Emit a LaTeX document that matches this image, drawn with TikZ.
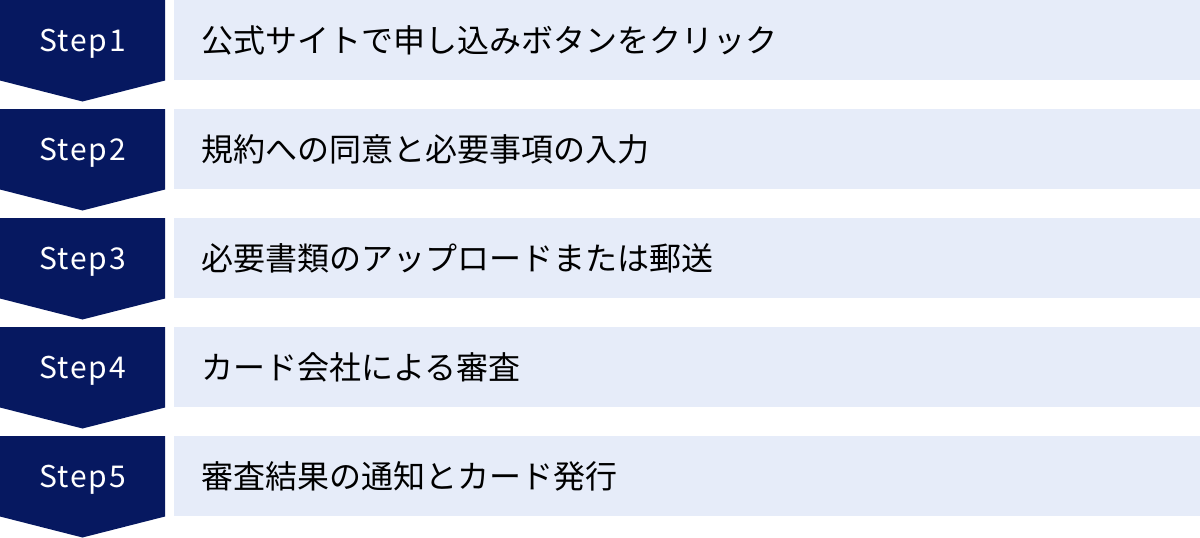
\documentclass[tikz,border=0pt]{standalone}
\usepackage{fontspec}
\setmainfont{Noto Sans}
\newfontfamily\jpfont{Noto Sans CJK JP}
\newfontfamily\stepfont[LetterSpace=6]{Noto Sans CJK JP}
\definecolor{navy}{RGB}{6,24,96}
\definecolor{pale}{RGB}{230,236,249}
\tikzset{
  chevron/.style={fill=navy},
  bar/.style={fill=pale},
  steplabel/.style={text=white, inner sep=0pt, anchor=base, font=\stepfont\fontsize{30}{36}\selectfont},
  barlabel/.style={text=black, anchor=west, inner sep=0pt, font=\jpfont\fontsize{32}{38}\selectfont}
}
\begin{document}
\begin{tikzpicture}[x=1pt,y=-1pt]
\useasboundingbox (0,0) rectangle (1200,538);
\foreach \i/\t in {1/公式サイトで申し込みボタンをクリック,
                   2/規約への同意と必要事項の入力,
                   3/必要書類のアップロードまたは郵送,
                   4/カード会社による審査,
                   5/審査結果の通知とカード発行} {
  \pgfmathsetmacro\top{109*(\i-1)}
  \fill[chevron] (0,\top) -- (165,\top) -- (165,\top+80.5) -- (82.5,\top+101.5) -- (0,\top+80.5) -- cycle;
  \node[steplabel] (s\i) at (82.5,\top+51.5) {Step\i};
  \fill[bar] (174,\top) rectangle (1200,\top+79.5);
  \node[barlabel] (t\i) at (201,\top+40) {\t};
}
\end{tikzpicture}
\end{document}
